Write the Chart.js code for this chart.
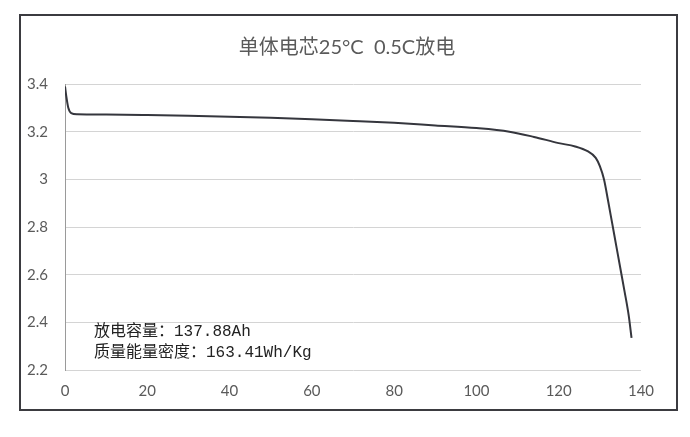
<!DOCTYPE html>
<html>
<head>
<meta charset="utf-8">
<script src="https://cdn.jsdelivr.net/npm/chart.js@4/dist/chart.umd.min.js"></script>
<style>
  html, body { margin: 0; padding: 0; background: #fff; }
  #wrap { position: relative; width: 690px; height: 437px; }
  #frame { position: absolute; left: 19px; top: 14px; width: 655px; height: 393px; border: 2px solid #3b3b40; }
  canvas { position: absolute; left: 0; top: 0; }
</style>
</head>
<body>
<div id="wrap">
  <div id="frame"></div>
  <canvas id="dischargeChart" width="690" height="437"></canvas>
</div>
<script>
const titleText = '单体电芯25°C  0.5C放电'
const noteLines = ['放电容量：137.88Ah', '质量能量密度：163.41Wh/Kg']

// capacity (Ah) and cell voltage (V)
const capacity = [0, 0.3, 0.8, 1.5, 3, 10, 20, 30, 40, 50, 60, 70, 80, 90, 100, 108, 114, 120, 124, 127, 129, 130, 131, 132, 133, 134, 135, 136, 137, 137.7]
const voltage = [3.39, 3.35, 3.30, 3.278, 3.273, 3.272, 3.27, 3.267, 3.263, 3.258, 3.252, 3.245, 3.237, 3.226, 3.215, 3.20, 3.178, 3.152, 3.138, 3.118, 3.09, 3.055, 3.0, 2.91, 2.815, 2.72, 2.625, 2.53, 2.43, 2.335]

const xTicks = [0, 20, 40, 60, 80, 100, 120, 140]
const yTicks = [2.2, 2.4, 2.6, 2.8, 3, 3.2, 3.4]

const points = capacity.map((c, i) => ({ x: c, y: voltage[i] }))

const textPlugin = {
  id: 'textPlugin',
  afterDraw(chart) {
    const ctx = chart.ctx
    ctx.save()
    ctx.fillStyle = '#5a5a5a'
    ctx.font = '20px Lato, "Noto Sans CJK SC"'
    ctx.textAlign = 'center'
    ctx.textBaseline = 'middle'
    ctx.fillText(titleText, 347, 48)

    ctx.fillStyle = '#222'
    ctx.font = '16px "Liberation Mono", "Noto Sans CJK SC"'
    ctx.textAlign = 'left'
    ctx.fillText(noteLines[0], 94, 332)
    ctx.fillText(noteLines[1], 94, 353)
    ctx.restore()
  }
}

new Chart(document.querySelector('#dischargeChart'), {
  type: 'line',
  data: {
    datasets: [{
      data: points,
      borderColor: '#35363d',
      borderWidth: 2,
      pointRadius: 0,
      fill: false,
      cubicInterpolationMode: 'monotone'
    }]
  },
  options: {
    responsive: false,
    animation: false,
    layout: {
      padding: { left: 0, right: 49, top: 84, bottom: 0 }
    },
    plugins: {
      legend: { display: false },
      tooltip: { enabled: false }
    },
    scales: {
      x: {
        type: 'linear',
        min: 0,
        max: 140,
        afterBuildTicks: (s) => { s.ticks = xTicks.map(v => ({ value: v })) },
        afterFit: (s) => { s.height = 67 },
        grid: { display: false, drawTicks: false },
        border: { display: false },
        ticks: {
          color: '#5a5a5a',
          padding: 12,
          font: { family: 'Lato', size: 15 }
        }
      },
      y: {
        min: 2.2,
        max: 3.4,
        afterBuildTicks: (s) => { s.ticks = yTicks.map(v => ({ value: v })) },
        afterFit: (s) => { s.width = 65 },
        grid: { color: '#d4d4d4', lineWidth: 1, drawTicks: false },
        border: { display: true, color: '#9a9a9a', width: 1 },
        ticks: {
          color: '#5a5a5a',
          padding: 17,
          font: { family: 'Lato', size: 15 },
          callback: (v) => Number(v.toFixed(1)).toString()
        }
      }
    }
  },
  plugins: [textPlugin]
})
</script>
</body>
</html>
